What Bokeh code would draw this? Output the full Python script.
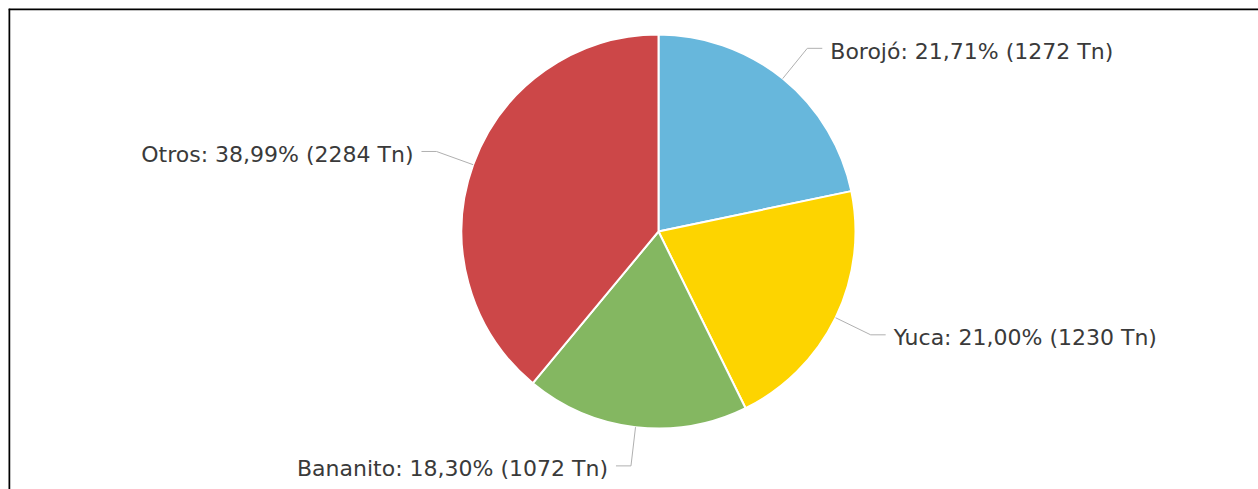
import math
from bokeh.plotting import figure
from bokeh.models import Range1d, Span, ColumnDataSource
from bokeh.core.properties import value
from bokeh.embed import file_html
from bokeh.resources import INLINE

# ---- data ----
names = ["Borojó", "Yuca", "Bananito", "Otros"]
tons = [1272, 1230, 1072, 2284]
percents = [21.71, 21.00, 18.30, 38.99]
colors = ["#67b7dc", "#fdd400", "#84b761", "#cc4748"]

# ---- layout (pixel-like data units, pie centred at 0,0) ----
R = 197
LABEL_R = 236
HORIZ = 15
GAP = 8

total = sum(tons)
starts, ends = [], []
lx, ly, tx, ty, aligns, texts = [], [], [], [], [], []
cum = 0.0
for n, t, pc in zip(names, tons, percents):
    frac0 = cum / total
    cum += t
    frac1 = cum / total
    starts.append(math.pi / 2 - 2 * math.pi * frac0)
    ends.append(math.pi / 2 - 2 * math.pi * frac1)
    mid = 2 * math.pi * (frac0 + frac1) / 2  # clockwise from top
    sx, sy = R * math.sin(mid), R * math.cos(mid)
    ex, ey = LABEL_R * math.sin(mid), LABEL_R * math.cos(mid)
    side = 1 if ex >= 0 else -1
    hx = ex + side * HORIZ
    lx.append([sx, ex, hx])
    ly.append([sy, ey, ey])
    tx.append(hx + side * GAP)
    ty.append(ey - 3)
    aligns.append("left" if side > 0 else "right")
    texts.append(f"{n}: {pc:.2f}%".replace(".", ",") + f" ({t} Tn)")

p = figure(width=1258, height=489,
           x_range=Range1d(-650, 600), y_range=Range1d(-258, 223),
           output_backend="svg", toolbar_location=None,
           min_border_left=8, min_border_top=8,
           min_border_right=0, min_border_bottom=0,
           outline_line_color=None,
           background_fill_color="white", border_fill_color="white")
p.axis.visible = False
p.grid.visible = False

wsrc = ColumnDataSource(dict(start=starts, end=ends, color=colors))
p.wedge(x=0, y=0, radius=R, start_angle="start", end_angle="end",
        direction="clock", fill_color="color", line_color="white",
        line_width=2, source=wsrc)

p.multi_line(xs=lx, ys=ly, line_color="#b0b0b0", line_width=1)

tsrc = ColumnDataSource(dict(x=tx, y=ty, text=texts, align=aligns))
p.text(x="x", y="y", text="text", text_align="align", text_baseline="middle",
       text_font=value("DejaVu Sans"), text_font_size=value("22px"),
       text_color="#3a3a3a", source=tsrc)

# frame border (left and top visible in reference)
p.add_layout(Span(location=-649.5, dimension="height", line_color="black", line_width=2.5))
p.add_layout(Span(location=222.5, dimension="width", line_color="black", line_width=2.5))

open("out.html", "w").write(file_html(p, INLINE))
